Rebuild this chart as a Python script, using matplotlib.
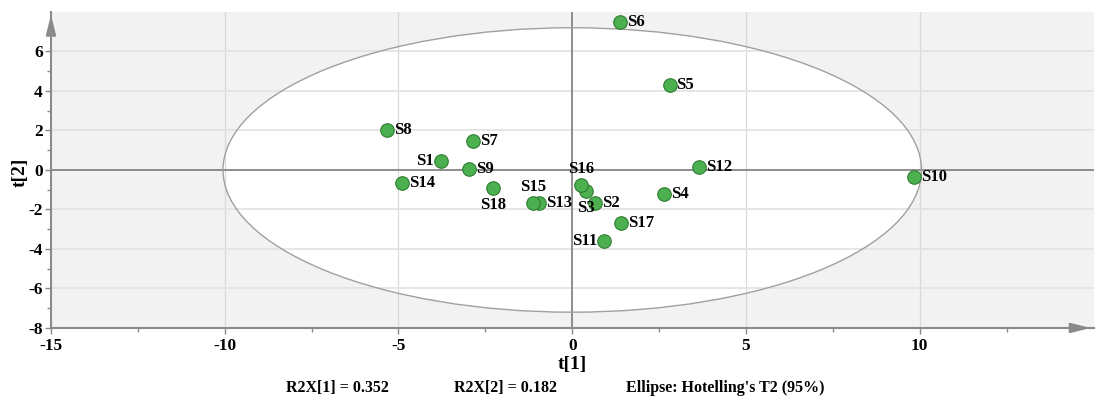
import numpy as np
import matplotlib.pyplot as plt
from matplotlib.patches import Ellipse

plt.rcParams['font.family'] = ['Liberation Serif', 'DejaVu Serif']
plt.rcParams['font.weight'] = 'bold'
plt.rcParams['axes.unicode_minus'] = False

names = ['S1', 'S2', 'S3', 'S4', 'S5', 'S6', 'S7', 'S8', 'S9', 'S10',
         'S11', 'S12', 'S13', 'S14', 'S15', 'S16', 'S17', 'S18']
t1 = [-3.78, 0.66, 0.40, 2.65, 2.80, 1.38, -2.85, -5.33, -2.97, 9.83,
      0.92, 3.66, -0.95, -4.90, -1.12, 0.26, 1.41, -2.28]
t2 = [0.46, -1.68, -1.07, -1.22, 4.31, 7.51, 1.47, 2.03, 0.05, -0.36,
      -3.60, 0.15, -1.68, -0.66, -1.68, -0.76, -2.69, -0.91]
# where each label sits relative to its point
label_side = {'S1': 'left', 'S11': 'left', 'S15': 'above', 'S16': 'above',
              'S18': 'below', 'S3': 'below'}

ell_a, ell_b = 10.05, 7.2

fig = plt.figure(figsize=(10.99, 3.99), dpi=100)
ax = fig.add_axes([0.0464, 0.178, 0.9486, 0.792])
ax.set_facecolor('#f2f2f2')
ax.set_xlim(-15, 15)
ax.set_ylim(-8, 8)

ax.add_patch(Ellipse((0, 0), 2*ell_a, 2*ell_b, facecolor='white',
                     edgecolor='none', zorder=0.5))
ax.set_xticks([-15, -10, -5, 0, 5, 10])
ax.set_yticks(np.arange(-8, 7, 2))
ax.set_xticks(np.arange(-12.5, 15, 5), minor=True)
ax.set_yticks(np.arange(-7, 8, 2), minor=True)
for v in [-10, -5, 5, 10]:
    ax.axvline(v, color='#d9d9d9', lw=0.9, zorder=1)
for v in [-6, -4, -2, 2, 4, 6]:
    ax.axhline(v, color='#e2e2e2', lw=1.2, zorder=1)
ax.axvline(0, color='#858585', lw=1.3, zorder=1.2)
ax.axhline(0, color='#858585', lw=1.3, zorder=1.2)
ax.add_patch(Ellipse((0, 0), 2*ell_a, 2*ell_b, facecolor='none',
                     edgecolor='#a0a0a0', lw=1.0, zorder=1.5))

for s in ['top', 'right']:
    ax.spines[s].set_visible(False)
for s in ['left', 'bottom']:
    ax.spines[s].set_color('#8a8a8a')
    ax.spines[s].set_linewidth(1.5)
ax.tick_params(which='major', length=4, width=1, color='#8a8a8a',
               labelsize=12.5)
ax.tick_params(axis='x', which='major', pad=3)
ax.tick_params(axis='y', which='major', pad=2)
ax.tick_params(which='minor', length=3, width=1, color='#8a8a8a')
ax.annotate('', xy=(1.0, 0), xytext=(0.985, 0), xycoords='axes fraction',
            arrowprops=dict(arrowstyle='-|>,head_length=1.2,head_width=0.3',
                            color='#8a8a8a', lw=1.5), annotation_clip=False)
ax.annotate('', xy=(0, 1.0), xytext=(0, 0.96), xycoords='axes fraction',
            arrowprops=dict(arrowstyle='-|>,head_length=1.2,head_width=0.3',
                            color='#8a8a8a', lw=1.5), annotation_clip=False)

ax.scatter(t1, t2, s=95, color='#4caf50', edgecolors='#2e7d32',
           linewidths=0.8, zorder=3)
for n, x, y in zip(names, t1, t2):
    side = label_side.get(n, 'right')
    if side == 'right':
        ax.annotate(n, (x, y), xytext=(5, 0), textcoords='offset points',
                    ha='left', va='center', fontsize=12, zorder=4)
    elif side == 'left':
        ax.annotate(n, (x, y), xytext=(-5, 0), textcoords='offset points',
                    ha='right', va='center', fontsize=12, zorder=4)
    elif side == 'above':
        ax.annotate(n, (x, y), xytext=(0, 11.5), textcoords='offset points',
                    ha='center', va='center', fontsize=12, zorder=4)
    else:
        ax.annotate(n, (x, y), xytext=(0, -12.5), textcoords='offset points',
                    ha='center', va='center', fontsize=12, zorder=4)

fig.text(572/1099, 1-364/399, 't[1]', ha='center', va='center', fontsize=14)
fig.text(20/1099, 1-172/399, 't[2]', ha='center', va='center', fontsize=14,
         rotation=90)
fig.text(337/1099, 1-388/399, 'R2X[1] = 0.352', ha='center', va='center',
         fontsize=11.5)
fig.text(506/1099, 1-388/399, 'R2X[2] = 0.182', ha='center', va='center',
         fontsize=11.5)
fig.text(725/1099, 1-388/399, "Ellipse: Hotelling's T2 (95%)", ha='center',
         va='center', fontsize=11.5)

fig.savefig('out.png', dpi=100)
